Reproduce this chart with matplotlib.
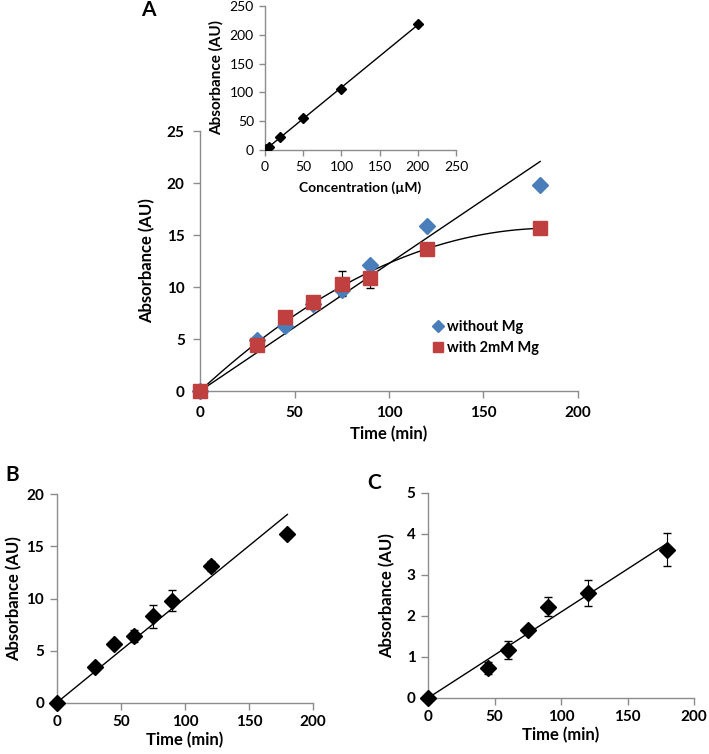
import numpy as np
import matplotlib.pyplot as plt

plt.rcParams['font.family'] = ['Lato', 'DejaVu Sans']

# panel A data
time_a = [0, 30, 45, 60, 75, 90, 120, 180]
no_mg = [0, 4.9, 6.3, 8.4, 9.7, 12.1, 15.9, 19.8]
no_mg_err = [0, 0, 0, 0, 0.5, 0, 0, 0]
with_mg = [0, 4.4, 7.1, 8.6, 10.3, 10.9, 13.7, 15.7]
with_mg_err = [0, 0, 0, 0.3, 1.2, 1.0, 0, 0]

# inset (calibration)
conc = [1, 5, 20, 50, 100, 200]
calib = [1, 5, 22, 56, 106, 218]

# panel B
time_b = [0, 30, 45, 60, 75, 90, 120, 180]
abs_b = [0, 3.4, 5.6, 6.4, 8.3, 9.8, 13.1, 16.2]
err_b = [0, 0, 0, 0.6, 1.1, 1.0, 0.5, 0]

# panel C
time_c = [0, 45, 60, 75, 90, 120, 180]
abs_c = [0, 0.73, 1.18, 1.65, 2.23, 2.56, 3.62]
err_c = [0, 0.15, 0.22, 0.05, 0.24, 0.31, 0.40]

BLUE = '#4a7ebb'
RED = '#c0403f'
GRAY = '#8c8c8c'


def origin_slope(x, y):
    x = np.asarray(x, float)
    y = np.asarray(y, float)
    return np.sum(x * y) / np.sum(x * x)


def style_axes(ax, bold=True, size=11, pad=5):
    for s in ['top', 'right']:
        ax.spines[s].set_visible(False)
    for s in ['left', 'bottom']:
        ax.spines[s].set_color(GRAY)
        ax.spines[s].set_linewidth(1.0)
    ax.tick_params(direction='out', length=5, width=1, color=GRAY,
                   labelsize=size, pad=pad)
    for lab in ax.get_xticklabels() + ax.get_yticklabels():
        lab.set_fontweight('bold' if bold else 'normal')


def fit_line(ax, x, y, xmax):
    k = origin_slope(x, y)
    xs = np.array([0, xmax])
    ax.plot(xs, k * xs, color='black', lw=1.0, zorder=2)


fig = plt.figure(figsize=(7.09, 7.54), dpi=100)

# ---- panel A
ax = fig.add_axes([0.2821, 0.4814, 0.5331, 0.3448])
fit_line(ax, time_a, no_mg, 180)
xa = np.asarray(time_a, float)
A = np.column_stack([xa, xa ** 2])
c1, c2 = np.linalg.lstsq(A, np.asarray(with_mg, float), rcond=None)[0]
xs = np.linspace(0, 180, 200)
ax.plot(xs, c1 * xs + c2 * xs ** 2, color='black', lw=1.0, zorder=2)
ax.errorbar(time_a, no_mg, yerr=no_mg_err, fmt='none', ecolor='black',
            elinewidth=0.8, capsize=3, zorder=3)
ax.errorbar(time_a, with_mg, yerr=with_mg_err, fmt='none', ecolor='black',
            elinewidth=0.8, capsize=3, zorder=3)
ax.plot(time_a, no_mg, 'D', color=BLUE, ms=8, mec=BLUE, ls='none',
        label='without Mg', zorder=4, clip_on=False)
ax.plot(time_a, with_mg, 's', color=RED, ms=10, mec=RED, ls='none',
        label='with 2mM Mg', zorder=5, clip_on=False)
ax.set_xlim(0, 200)
ax.set_ylim(0, 25)
ax.set_xticks([0, 50, 100, 150, 200])
ax.set_yticks([0, 5, 10, 15, 20, 25])
style_axes(ax, pad=6)
ax.set_xlabel('Time (min)', fontsize=12, fontweight='bold', labelpad=4)
ax.set_ylabel('Absorbance (AU)', fontsize=12, fontweight='bold', labelpad=8)
leg = ax.legend(loc='center left', bbox_to_anchor=(0.575, 0.205), frameon=False,
                handletextpad=0.1, handlelength=1.0, labelspacing=0.45,
                fontsize=10.5, markerscale=0.75)
for t in leg.get_texts():
    t.set_fontweight('bold')
fig.text(0.209, 0.987, 'A', fontsize=15, fontweight='bold', ha='center', va='center')

# ---- inset
axi = fig.add_axes([0.3738, 0.8011, 0.2694, 0.191])
fit_line(axi, conc, calib, 200)
axi.plot(conc, calib, 'D', color='black', ms=5.5, ls='none', zorder=3)
axi.set_xlim(0, 250)
axi.set_ylim(0, 250)
axi.set_xticks([0, 50, 100, 150, 200, 250])
axi.set_yticks([0, 50, 100, 150, 200, 250])
style_axes(axi, bold=False, size=10, pad=4)
axi.tick_params(length=4)
axi.set_xlabel('Concentration (µM)', fontsize=10, fontweight='bold', labelpad=6)
axi.set_ylabel('Absorbance (AU)', fontsize=11, fontweight='bold', labelpad=4)

# ---- panel B
axb = fig.add_axes([0.080, 0.068, 0.3615, 0.2764])
fit_line(axb, time_b, abs_b, 180)
axb.errorbar(time_b, abs_b, yerr=err_b, fmt='D', color='black', ms=8,
             ecolor='black', elinewidth=0.8, capsize=3, zorder=3, clip_on=False)
axb.set_xlim(0, 200)
axb.set_ylim(0, 20)
axb.set_xticks([0, 50, 100, 150, 200])
axb.set_yticks([0, 5, 10, 15, 20])
style_axes(axb, pad=4)
axb.set_xlabel('Time (min)', fontsize=12, fontweight='bold', labelpad=2)
axb.set_ylabel('Absorbance (AU)', fontsize=12, fontweight='bold', labelpad=3)
fig.text(0.017, 0.370, 'B', fontsize=15, fontweight='bold', ha='center', va='center')

# ---- panel C
axc = fig.add_axes([0.6037, 0.0743, 0.3752, 0.2719])
fit_line(axc, time_c, abs_c, 180)
axc.errorbar(time_c, abs_c, yerr=err_c, fmt='D', color='black', ms=8,
             ecolor='black', elinewidth=0.8, capsize=3, zorder=3, clip_on=False)
axc.set_xlim(0, 200)
axc.set_ylim(0, 5)
axc.set_xticks([0, 50, 100, 150, 200])
axc.set_yticks([0, 1, 2, 3, 4, 5])
style_axes(axc, pad=4)
axc.set_xlabel('Time (min)', fontsize=12, fontweight='bold', labelpad=2)
axc.set_ylabel('Absorbance (AU)', fontsize=12, fontweight='bold', labelpad=8)
fig.text(0.528, 0.359, 'C', fontsize=15, fontweight='bold', ha='center', va='center')

fig.savefig('out.png', dpi=100)
